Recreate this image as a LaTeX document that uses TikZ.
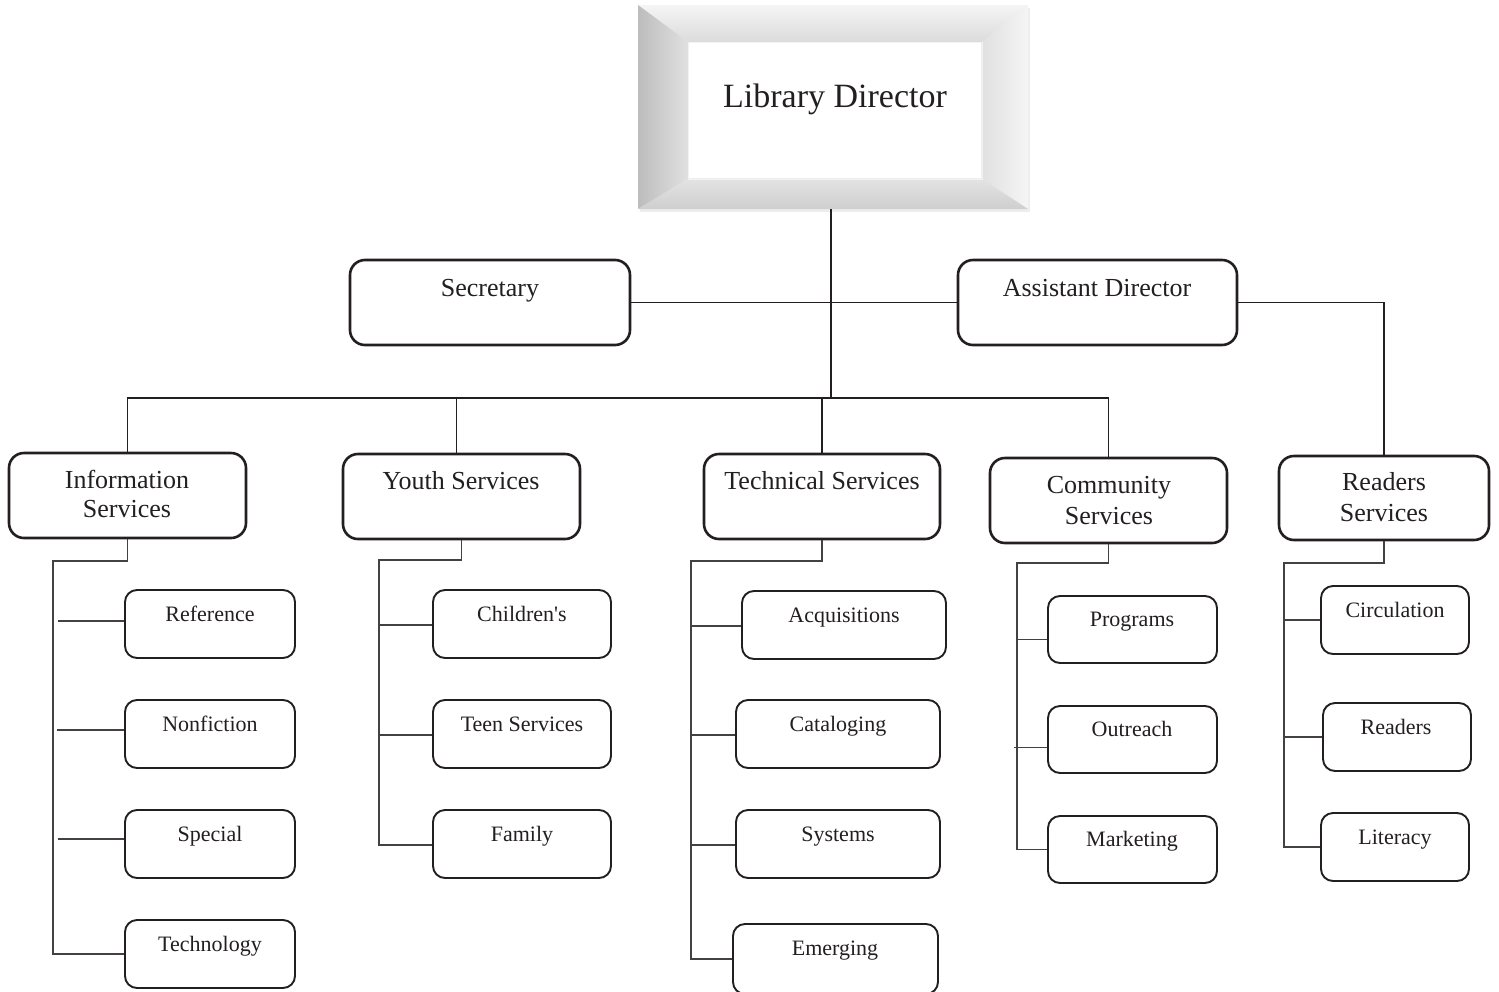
\documentclass[tikz,border=0pt]{standalone}
\usepackage{fontspec}
\setmainfont{Liberation Serif}
\newfontfamily\rawserif{Liberation Serif}
\usetikzlibrary{calc}
\definecolor{ink}{HTML}{231F20}
\newcommand\orgbox[6]{% style, name, x1, y1, x2, y2
  \node[#1, minimum width={(#5-#3)*1pt}, minimum height={(#6-#4)*1pt}] (#2) at ({(#3+#5)/2},{(#4+#6)/2}) {};}
\tikzset{
  headbox/.style={draw=ink, line width=2.6pt, rounded corners=15pt, inner sep=0pt, fill=white},
  unitbox/.style={draw=ink, line width=1.9pt, rounded corners=12pt, inner sep=0pt, fill=white},
  bigtxt/.style={anchor=base, inner sep=0pt, text=ink, font=\fontsize{34}{40}\selectfont},
  midtxt/.style={anchor=base, inner sep=0pt, text=ink, font=\fontsize{26}{30}\selectfont},
  smalltxt/.style={anchor=base, inner sep=0pt, text=ink, font=\fontsize{22}{26}\selectfont},
  trunk/.style={draw=ink, line width=1.5pt},
  twig/.style={draw=ink!85, line width=1.3pt},
}
\begin{document}
\begin{tikzpicture}[x=1pt,y=-1pt]
\useasboundingbox (0,0) rectangle (1499,991);
\fill[white] (0,0) rectangle (1499,991);

% ---- director: bevelled frame ----
\fill[gray!14] (640,8) rectangle (1030,212);
\shade[top color=gray!8, bottom color=gray!28] (638,5) -- (1028,5) -- (982,42) -- (688,42) -- cycle;
\shade[left color=gray!52, right color=gray!24] (638,5) -- (688,42) -- (688,179) -- (638,209) -- cycle;
\shade[left color=gray!24, right color=gray!8] (1028,5) -- (982,42) -- (982,179) -- (1028,209) -- cycle;
\shade[top color=gray!22, bottom color=gray!38] (638,209) -- (688,179) -- (982,179) -- (1028,209) -- cycle;
\draw[white!90!gray, line width=0.8pt] (688,42) rectangle (982,179);
\fill[white] (689,43) rectangle (981,178);
\orgbox{inner sep=0pt}{dir}{638}{5}{1028}{209}
\node[bigtxt] (dir-t) at (835,107) {Library Director};

% ---- second row ----
\orgbox{headbox}{sec}{350}{260}{630}{345}
\node[midtxt] (sec-t) at (490,296) {Secretary};
\orgbox{headbox}{asst}{958}{260}{1237}{345}
\node[midtxt] (asst-t) at (1097,296) {Assistant Director};

% ---- departments ----
\orgbox{headbox}{info}{9}{453}{246}{538}
\node[midtxt] (info-t1) at (127,488) {Information};
\node[midtxt] (info-t2) at (127,517) {Services};
\orgbox{headbox}{youth}{343}{454}{580}{539}
\node[midtxt] (youth-t) at (461,489) {Youth Services};
\orgbox{headbox}{tech}{704}{454}{940}{539}
\node[midtxt] (tech-t) at (822,489) {Technical Services};
\orgbox{headbox}{comm}{990}{458}{1227}{543}
\node[midtxt] (comm-t1) at (1109,493) {Community};
\node[midtxt] (comm-t2) at (1109,524) {Services};
\orgbox{headbox}{read}{1279}{456}{1489}{540}
\node[midtxt] (read-t1) at (1384,490) {Readers};
\node[midtxt] (read-t2) at (1384,521) {Services};

% ---- units: Information Services ----
\orgbox{unitbox}{ref}{125}{590}{295}{658}
\node[smalltxt] (ref-t) at (210,621) {Reference};
\orgbox{unitbox}{nonf}{125}{700}{295}{768}
\node[smalltxt] (nonf-t) at (210,731) {Nonfiction};
\orgbox{unitbox}{spec}{125}{810}{295}{878}
\node[smalltxt] (spec-t) at (210,841) {Special};
\orgbox{unitbox}{techn}{125}{920}{295}{988}
\node[smalltxt] (techn-t) at (210,951) {Technology};

% ---- units: Youth Services ----
\orgbox{unitbox}{child}{433}{590}{611}{658}
\node[smalltxt] (child-t) at (522,621) {\rawserif Children's};
\orgbox{unitbox}{teen}{433}{700}{611}{768}
\node[smalltxt] (teen-t) at (522,731) {Teen Services};
\orgbox{unitbox}{fam}{433}{810}{611}{878}
\node[smalltxt] (fam-t) at (522,841) {Family};

% ---- units: Technical Services ----
\orgbox{unitbox}{acq}{742}{591}{946}{659}
\node[smalltxt] (acq-t) at (844,622) {Acquisitions};
\orgbox{unitbox}{cat}{736}{700}{940}{768}
\node[smalltxt] (cat-t) at (838,731) {Cataloging};
\orgbox{unitbox}{sys}{736}{810}{940}{878}
\node[smalltxt] (sys-t) at (838,841) {Systems};
\orgbox{unitbox}{emer}{733}{924}{938}{994}
\node[smalltxt] (emer-t) at (835,955) {Emerging};

% ---- units: Community Services ----
\orgbox{unitbox}{prog}{1048}{596}{1217}{663}
\node[smalltxt] (prog-t) at (1132,626) {Programs};
\orgbox{unitbox}{outr}{1048}{706}{1217}{773}
\node[smalltxt] (outr-t) at (1132,736) {Outreach};
\orgbox{unitbox}{mark}{1048}{816}{1217}{883}
\node[smalltxt] (mark-t) at (1132,846) {Marketing};

% ---- units: Readers Services ----
\orgbox{unitbox}{circ}{1321}{586}{1469}{654}
\node[smalltxt] (circ-t) at (1395,617) {Circulation};
\orgbox{unitbox}{rdr}{1323}{703}{1471}{771}
\node[smalltxt] (rdr-t) at (1396,734) {Readers};
\orgbox{unitbox}{lit}{1321}{813}{1469}{881}
\node[smalltxt] (lit-t) at (1395,844) {Literacy};

% ---- top connectors ----
\coordinate (bus) at (831,398);
\draw[trunk] (dir.south -| bus) -- (bus);
\draw[trunk] (sec.east) -- (asst.west);
\draw[trunk] (asst.east) -| (read.north);
\draw[trunk] (info.north) -- (info.north |- bus) -- (comm.north |- bus) -- (comm.north);
\draw[trunk] ($(youth.north |- bus)+(-5,0)$) -- ($(youth.north)+(-5,0)$);
\draw[trunk, line width=2.3pt] (tech.north |- bus) -- (tech.north);

% ---- branch connectors ----
% Information Services
\coordinate (infoV) at (53,561);
\draw[twig] (info.south) -- (info.south |- infoV) -- (infoV) |- (techn.west);
\draw[twig] ($(ref.west)+(-66,-3)$) -- ($(ref.west)+(0,-3)$);
\draw[twig] ($(nonf.west)+(-67,-4)$) -- ($(nonf.west)+(0,-4)$);
\draw[twig] ($(spec.west)+(-66,-5)$) -- ($(spec.west)+(0,-5)$);
% Youth Services
\coordinate (youthV) at (379,560);
\draw[twig] (youth.south) -- (youth.south |- youthV) -- (youthV) |- ($(fam.west)+(0,1)$);
\draw[twig] ($(child.west -| youthV)+(0,1)$) -- ($(child.west)+(0,1)$);
\draw[twig] ($(teen.west -| youthV)+(0,1)$) -- ($(teen.west)+(0,1)$);
% Technical Services
\coordinate (techV) at (691,561);
\draw[twig] (tech.south) -- (tech.south |- techV) -- (techV) |- (emer.west);
\draw[twig] ($(acq.west -| techV)+(0,1)$) -- ($(acq.west)+(0,1)$);
\draw[twig] ($(cat.west -| techV)+(0,1)$) -- ($(cat.west)+(0,1)$);
\draw[twig] ($(sys.west -| techV)+(0,1)$) -- ($(sys.west)+(0,1)$);
% Community Services
\coordinate (commV) at (1017,563);
\draw[twig] (comm.south) -- (comm.south |- commV) -- (commV) |- (mark.west);
\draw[twig] ($(prog.west -| commV)+(0,10)$) -- ($(prog.west)+(0,10)$);
\draw[twig] ($(outr.west -| commV)+(-3,8)$) -- ($(outr.west)+(0,8)$);
% Readers Services
\coordinate (readV) at (1284,563);
\draw[twig] (read.south) -- (read.south |- readV) -- (readV) |- (lit.west);
\draw[twig] (circ.west -| readV) -- (circ.west);
\draw[twig] (rdr.west -| readV) -- (rdr.west);
\end{tikzpicture}
\end{document}
